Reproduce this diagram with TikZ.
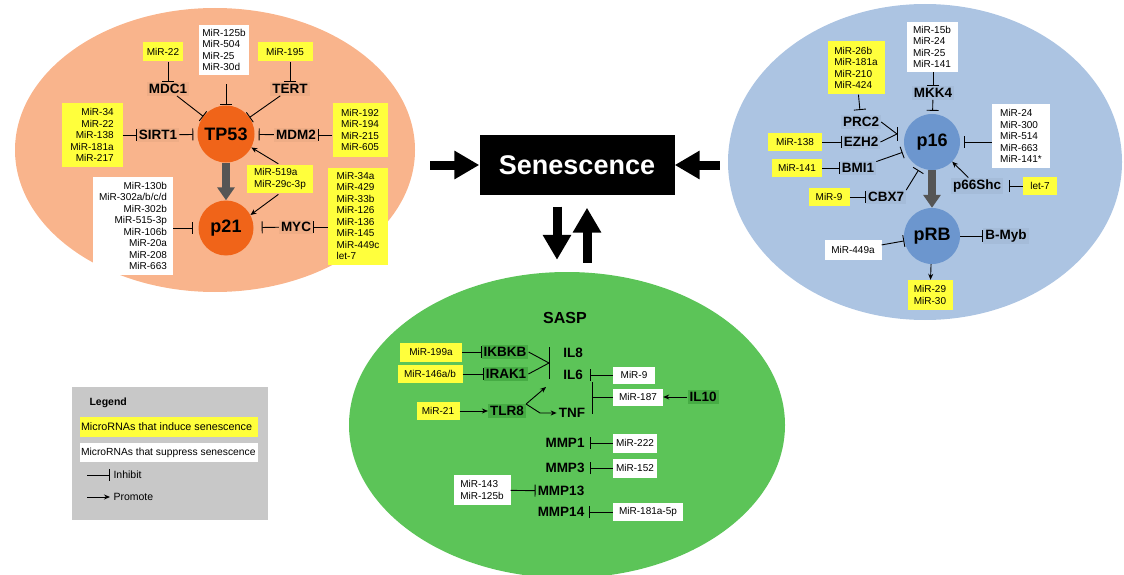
\documentclass[tikz,border=0pt]{standalone}
\usepackage{fontspec}
\setmainfont{Liberation Sans}
\usetikzlibrary{arrows.meta,positioning,shapes.geometric}
\definecolor{peach}{RGB}{249,180,140}
\definecolor{tangerine}{RGB}{240,100,25}
\definecolor{paleblue}{RGB}{172,196,226}
\definecolor{midblue}{RGB}{108,150,206}
\definecolor{grassgreen}{RGB}{92,196,88}
\definecolor{leafgreen}{RGB}{70,172,68}
\definecolor{miryellow}{RGB}{255,255,60}
\definecolor{legendgray}{RGB}{200,200,200}
\definecolor{arrowgray}{RGB}{85,85,85}

\begin{document}
\begin{tikzpicture}[x=1pt, y=-1pt,
    cell/.style={ellipse, inner sep=0pt},
    hub/.style={circle, inner sep=0pt, minimum size=57pt, font=\bfseries\fontsize{18}{20}\selectfont},
    gene/.style={inner sep=2pt, font=\bfseries\fontsize{13.5}{15}\selectfont},
    mir/.style={inner xsep=3pt, inner ysep=3pt, font=\fontsize{10}{11.5}\selectfont},
    induce/.style={mir, fill=miryellow},
    suppress/.style={mir, fill=white},
    legstrip/.style={inner xsep=1pt, minimum height=19pt, font=\fontsize{10.8}{12}\selectfont},
    inhibit/.style={-{Bar[width=12pt]}, line width=0.9pt},
    promote/.style={-{Stealth[length=6pt,width=5pt]}, line width=0.9pt},
    fat/.style={-{Triangle[length=13pt,width=17pt]}, line width=8pt, draw=arrowgray},
    huge/.style={-{Triangle[length=25pt,width=27pt]}, line width=9pt}
]
    \useasboundingbox (0,0) rectangle (1124,575);

    % the three cells
    \node[cell, fill=peach, minimum width=400pt, minimum height=284pt] (orangecell) at (215,150) {};
    \node[cell, fill=paleblue, minimum width=394pt, minimum height=316pt] (bluecell) at (925,162) {};
    \node[cell, fill=grassgreen, minimum width=436pt, minimum height=306pt] (greencell) at (567,425) {};

    % senescence hub
    \node[fill=black, text=white, minimum width=195pt, minimum height=59pt,
          font=\bfseries\fontsize{27}{30}\selectfont] (sen) at (577,165) {Senescence};
    \draw[huge, shorten <=15pt] (orangecell.east |- sen.west) -- (sen.west);
    \draw[huge, shorten <=8pt] (bluecell.west |- sen.east) -- (sen.east);
    \draw[huge, shorten <=12pt] ([xshift=-20pt]sen.south) -- ([xshift=-10pt,yshift=12pt]greencell.north);
    \draw[huge, shorten >=13pt] ([xshift=20pt,yshift=9pt]greencell.north) -- ([xshift=10pt]sen.south);

    % ---- TP53 / p21 ----
    \node[hub, fill=tangerine] (tp53) at (226,134) {TP53};
    \node[hub, fill=tangerine, minimum size=55pt] (p21) at (226,228) {p21};
    \draw[fat] (tp53) -- (p21);

    \node[induce, minimum width=40pt, minimum height=19pt] (m22a) at (163,52) {MiR-22};
    \node[gene, fill=peach!96!black] (mdc1) at (168,89) {MDC1};
    \node[suppress, align=left, minimum width=48pt, minimum height=50pt] (m125) at (224,50) {MiR-125b\\MiR-504\\MiR-25\\MiR-30d};
    \node[induce, minimum width=55pt, minimum height=19pt] (m195) at (285,52) {MiR-195};
    \node[gene, fill=peach!96!black] (tert) at (290,89) {TERT};
    \node[induce, align=right, minimum width=61pt, minimum height=64pt] (msirt) at (92,135) {MiR-34\\MiR-22\\MiR-138\\MiR-181a\\MiR-217};
    \node[gene, fill=peach!96!black] (sirt1) at (158,135) {SIRT1};
    \node[gene, fill=peach!96!black] (mdm2) at (296,135) {MDM2};
    \node[induce, align=left, minimum width=55pt, minimum height=54pt] (mmdm2) at (360,130) {MiR-192\\MiR-194\\MiR-215\\MiR-605};
    \node[induce, align=left, minimum width=66pt, minimum height=28pt] (m519) at (280,179) {MiR-519a\\MiR-29c-3p};
    \node[suppress, align=right, minimum width=80pt, minimum height=98pt] (mp21) at (133,226) {MiR-130b\\MiR-302a/b/c/d\\MiR-302b\\MiR-515-3p\\MiR-106b\\MiR-20a\\MiR-208\\MiR-663};
    \node[gene, fill=peach!96!black] (myc) at (296,227) {MYC};
    \node[induce, align=left, minimum width=60pt, minimum height=97pt] (mmyc) at (358,216) {MiR-34a\\MiR-429\\MiR-33b\\MiR-126\\MiR-136\\MiR-145\\MiR-449c\\let-7};

    \draw[inhibit] (m22a.south -| mdc1) -- (mdc1);
    \draw[inhibit] (m195.south -| tert) -- (tert);
    \draw[inhibit, shorten <=9pt] (m125.south -| tp53) -- (tp53);
    \draw[inhibit] (mdc1) -- (tp53);
    \draw[inhibit] (tert) -- (tp53);
    \draw[inhibit] (msirt) -- (sirt1);
    \draw[inhibit, shorten >=4pt] (sirt1) -- (tp53);
    \draw[inhibit] (mmdm2.west |- mdm2) -- (mdm2);
    \draw[inhibit, shorten >=4pt] (mdm2) -- (tp53);
    \draw[promote, shorten <=2pt] (m519.north) -- (tp53.-28);
    \draw[promote, shorten <=2pt] (m519.south) -- (p21.28);
    \draw[inhibit, shorten >=5pt] (mp21.east |- p21) -- (p21);
    \draw[inhibit] (mmyc.west |- myc) -- (myc);
    \draw[inhibit, shorten >=8pt] (myc) -- (p21);

    % ---- p16 / pRB ----
    \node[hub, fill=midblue, minimum size=56pt] (p16) at (932,142) {p16};
    \node[hub, fill=midblue, minimum size=56pt] (prb) at (932,236) {pRB};
    \draw[fat] (p16) -- (prb);

    \node[suppress, align=left, minimum width=51pt, minimum height=50pt] (m15b) at (932,47) {MiR-15b\\MiR-24\\MiR-25\\MiR-141};
    \node[gene, fill=paleblue!96!black] (mkk4) at (933,93) {MKK4};
    \node[induce, align=left, minimum width=57pt, minimum height=53pt] (m26b) at (856,68) {MiR-26b\\MiR-181a\\MiR-210\\MiR-424};
    \node[gene, fill=paleblue!96!black] (prc2) at (861,122) {PRC2};
    \node[gene, fill=paleblue!96!black] (ezh2) at (861,142) {EZH2};
    \node[induce, minimum width=54pt, minimum height=17pt] (m138) at (795,142) {MiR-138};
    \node[induce, minimum width=50pt, minimum height=18pt] (m141) at (797,168) {MiR-141};
    \node[gene, fill=paleblue!96!black] (bmi1) at (858,168) {BMI1};
    \node[induce, minimum width=41pt, minimum height=18pt] (m9a) at (829,197) {MiR-9};
    \node[gene, fill=paleblue!96!black] (cbx7) at (886,197) {CBX7};
    \node[suppress, align=left, minimum width=58pt, minimum height=63pt] (m24) at (1021,136) {MiR-24\\MiR-300\\MiR-514\\MiR-663\\MiR-141*};
    \node[gene, fill=paleblue!96!black] (p66) at (977,186) {p66Shc};
    \node[induce, minimum width=34pt, minimum height=18pt] (mlet) at (1040,186) {let-7};
    \node[gene, fill=paleblue!96!black] (bmyb) at (1006,236) {B-Myb};
    \node[suppress, minimum width=57pt, minimum height=20pt] (m449a) at (853,250) {MiR-449a};
    \node[induce, align=left, minimum width=45pt, minimum height=30pt] (m29) at (930,295) {MiR-29\\MiR-30};

    \coordinate (prcjoin) at (897,134);
    \coordinate (prcbartop) at (897,127);
    \coordinate (prcbarbot) at (897,141);

    \draw[inhibit] (m15b.south -| mkk4) -- (mkk4);
    \draw[inhibit, shorten >=3pt] (mkk4) -- (p16);
    \draw[inhibit, shorten >=5pt] (m26b) -- (prc2);
    \draw[line width=0.9pt] (prc2.east) -- (prcjoin) -- (ezh2.east);
    \draw[line width=0.9pt] (prcbartop) -- (prcbarbot);
    \draw[inhibit] (m138) -- (ezh2);
    \draw[inhibit] (m141) -- (bmi1);
    \draw[inhibit, shorten >=3pt] (bmi1) -- (p16);
    \draw[inhibit] (m9a) -- (cbx7);
    \draw[inhibit, shorten >=3pt] (cbx7.north east) -- (p16.245);
    \draw[inhibit, shorten >=4pt] (m24.west |- p16) -- (p16);
    \draw[inhibit, shorten >=6pt] (mlet) -- (p66);
    \draw[promote] (p66) -- (p16);
    \draw[inhibit] (prb) -- (bmyb);
    \draw[inhibit] (m449a) -- (prb);
    \draw[promote] (prb) -- (m29);

    % ---- SASP ----
    \node[font=\bfseries\fontsize{16}{18}\selectfont] (sasp) at (565,318) {SASP};
    \node[induce, minimum width=62pt, minimum height=19pt] (m199) at (431,352) {MiR-199a};
    \node[gene, fill=leafgreen] (ikbkb) at (505,352) {IKBKB};
    \node[induce, minimum width=65pt, minimum height=18pt] (m146) at (430,374) {MiR-146a/b};
    \node[gene, fill=leafgreen] (irak1) at (506,374) {IRAK1};
    \node[induce, minimum width=43pt, minimum height=18pt] (m21) at (438,411) {MiR-21};
    \node[gene, fill=leafgreen] (tlr8) at (507,411) {TLR8};
    \node[gene] (il8) at (573,353) {IL8};
    \node[gene] (il6) at (573,375) {IL6};
    \node[gene] (tnf) at (572,413) {TNF};
    \node[suppress, minimum width=42pt, minimum height=17pt] (m9b) at (634,375) {MiR-9};
    \node[suppress, minimum width=50pt, minimum height=17pt] (m187) at (638,397) {MiR-187};
    \node[gene, fill=leafgreen] (il10) at (703,397) {IL10};
    \node[gene] (mmp1) at (565,443) {MMP1};
    \node[suppress, minimum width=44pt, minimum height=19pt] (m222) at (635,443) {MiR-222};
    \node[gene] (mmp3) at (565,468) {MMP3};
    \node[suppress, minimum width=44pt, minimum height=19pt] (m152) at (635,468) {MiR-152};
    \node[suppress, align=left, minimum width=57pt, minimum height=30pt] (m143) at (482,490) {MiR-143\\MiR-125b};
    \node[gene] (mmp13) at (561,491) {MMP13};
    \node[gene] (mmp14) at (561,512) {MMP14};
    \node[suppress, minimum width=70pt, minimum height=18pt] (m181) at (648,512) {MiR-181a-5p};

    \coordinate (iljoin) at (549,363);
    \coordinate (ilbartop) at (549,347);
    \coordinate (ilbarbot) at (549,379);
    \coordinate (tlrup) at (546,387);
    \coordinate (tlrbend) at (540,413);
    \coordinate (brtop) at (592,382);
    \coordinate (brmid) at (592,397);
    \coordinate (brbot) at (592,414);

    \draw[inhibit] (m199) -- (ikbkb);
    \draw[inhibit] (m146) -- (irak1);
    \draw[line width=0.9pt] (ikbkb.east) -- (iljoin) -- (irak1.east);
    \draw[line width=0.9pt] (ilbartop) -- (ilbarbot);
    \draw[promote] (m21) -- (tlr8);
    \draw[promote] (tlr8.north east) -- (tlrup);
    \draw[promote] (tlr8.north east) -- (tlrbend) -- (tnf.west);
    \draw[inhibit, shorten >=5pt] (m9b) -- (il6);
    \draw[line width=0.9pt] (brtop) -- (brbot);
    \draw[line width=0.9pt] (m187) -- (brmid);
    \draw[promote] (il10) -- (m187);
    \draw[inhibit, shorten >=3pt] (m222) -- (mmp1);
    \draw[inhibit, shorten >=3pt] (m152) -- (mmp3);
    \draw[inhibit] (m143) -- (mmp13);
    \draw[inhibit, shorten >=3pt] (m181) -- (mmp14);

    % ---- legend ----
    \node[fill=legendgray, minimum width=196pt, minimum height=133pt] (legend) at (170,453.5) {};
    \node[anchor=west, font=\bfseries\fontsize{10.5}{12}\selectfont] (legtitle) at (86,403) {Legend};
    \node[legstrip, fill=miryellow, minimum height=20pt] (legind) at (169,427) {\makebox[176pt][l]{MicroRNAs that induce senescence}};
    \node[legstrip, fill=white, font=\fontsize{10.3}{12}\selectfont] (legsup) at (169,452.5) {\makebox[176pt][l]{MicroRNAs that suppress senescence}};
    \coordinate (leginhstart) at (87,475);
    \coordinate (legpromstart) at (87,497);
    \node[anchor=west, font=\fontsize{10.5}{12}\selectfont] (leginh) at (110,475) {Inhibit};
    \node[anchor=west, font=\fontsize{10.5}{12}\selectfont] (legprom) at (110,497) {Promote};
    \draw[inhibit] (leginhstart) -- (leginh.west);
    \draw[promote] (legpromstart) -- (legprom.west);
\end{tikzpicture}
\end{document}
